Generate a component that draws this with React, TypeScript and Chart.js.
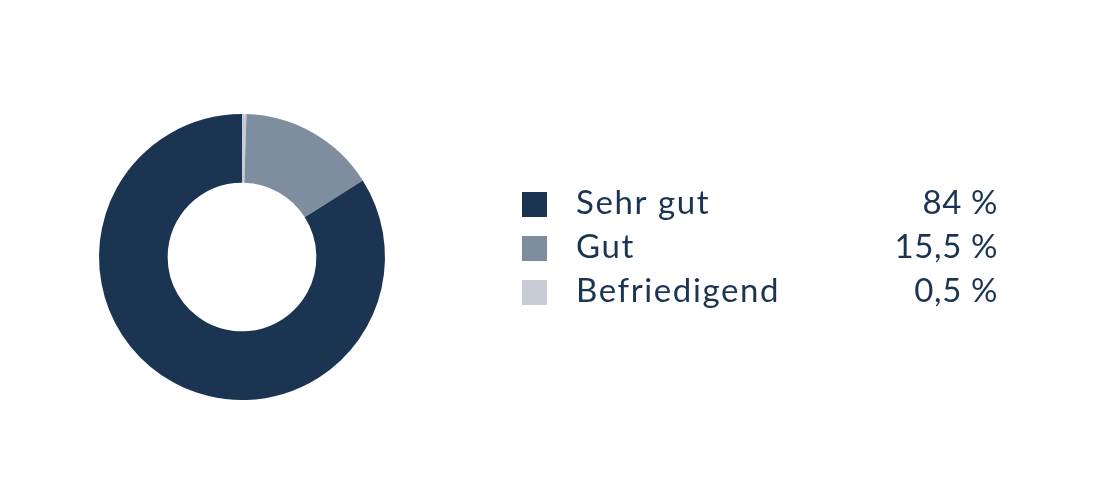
import React, { useEffect, useRef } from "react";
import { Chart, registerables } from "chart.js";

Chart.register(...registerables);

const categories = ["Sehr gut", "Gut", "Befriedigend"];
const values = [84, 15.5, 0.5];
const colors = ["#1b3452", "#7f8e9f", "#c8cdd5"];
const valueLabels = ["84 %", "15,5 %", "0,5 %"];

const TEXT_COLOR = "#1b3452";
const FONT = '"Lato", "Open Sans", sans-serif';

const legendPlugin = {
  id: "sideLegend",
  afterDraw(chart: any) {
    const ctx = chart.ctx;
    ctx.save();
    const sqX = 522;
    const sqSize = 25;
    const textX = 576;
    const valRight = 998;
    const firstBaseline = 214;
    const rowGap = 44;
    ctx.font = `400 33px ${FONT}`;
    ctx.textBaseline = "alphabetic";
    categories.forEach((cat, i) => {
      const base = firstBaseline + i * rowGap;
      ctx.fillStyle = colors[i];
      ctx.fillRect(sqX, base - 22, sqSize, sqSize);
      ctx.fillStyle = TEXT_COLOR;
      ctx.textAlign = "left";
      (ctx as any).letterSpacing = "1.6px";
      ctx.fillText(cat, textX, base);
      (ctx as any).letterSpacing = "0.6px";
      ctx.textAlign = "right";
      ctx.fillText(valueLabels[i], valRight, base);
    });
    ctx.restore();
  },
};

export default function App() {
  const ref = useRef<HTMLCanvasElement>(null);
  useEffect(() => {
    if (!ref.current) return;
    const order = [2, 1, 0];
    const chart = new Chart(ref.current, {
      type: "doughnut",
      data: {
        labels: order.map((i) => categories[i]),
        datasets: [
          {
            data: order.map((i) => values[i]),
            backgroundColor: order.map((i) => colors[i]),
            borderWidth: 0,
          },
        ],
      },
      options: {
        animation: false,
        responsive: false,
        maintainAspectRatio: false,
        cutout: "52%",
        layout: { padding: { left: 99, right: 715, top: 114, bottom: 100 } },
        plugins: { legend: { display: false }, tooltip: { enabled: false } },
      },
      plugins: [legendPlugin],
    });
    return () => chart.destroy();
  }, []);
  return (
    <div style={{ position: "absolute", left: 0, top: 0, width: 1100, height: 500, background: "#fff" }}>
      <canvas ref={ref} width={1100} height={500} style={{ width: 1100, height: 500 }} />
    </div>
  );
}
